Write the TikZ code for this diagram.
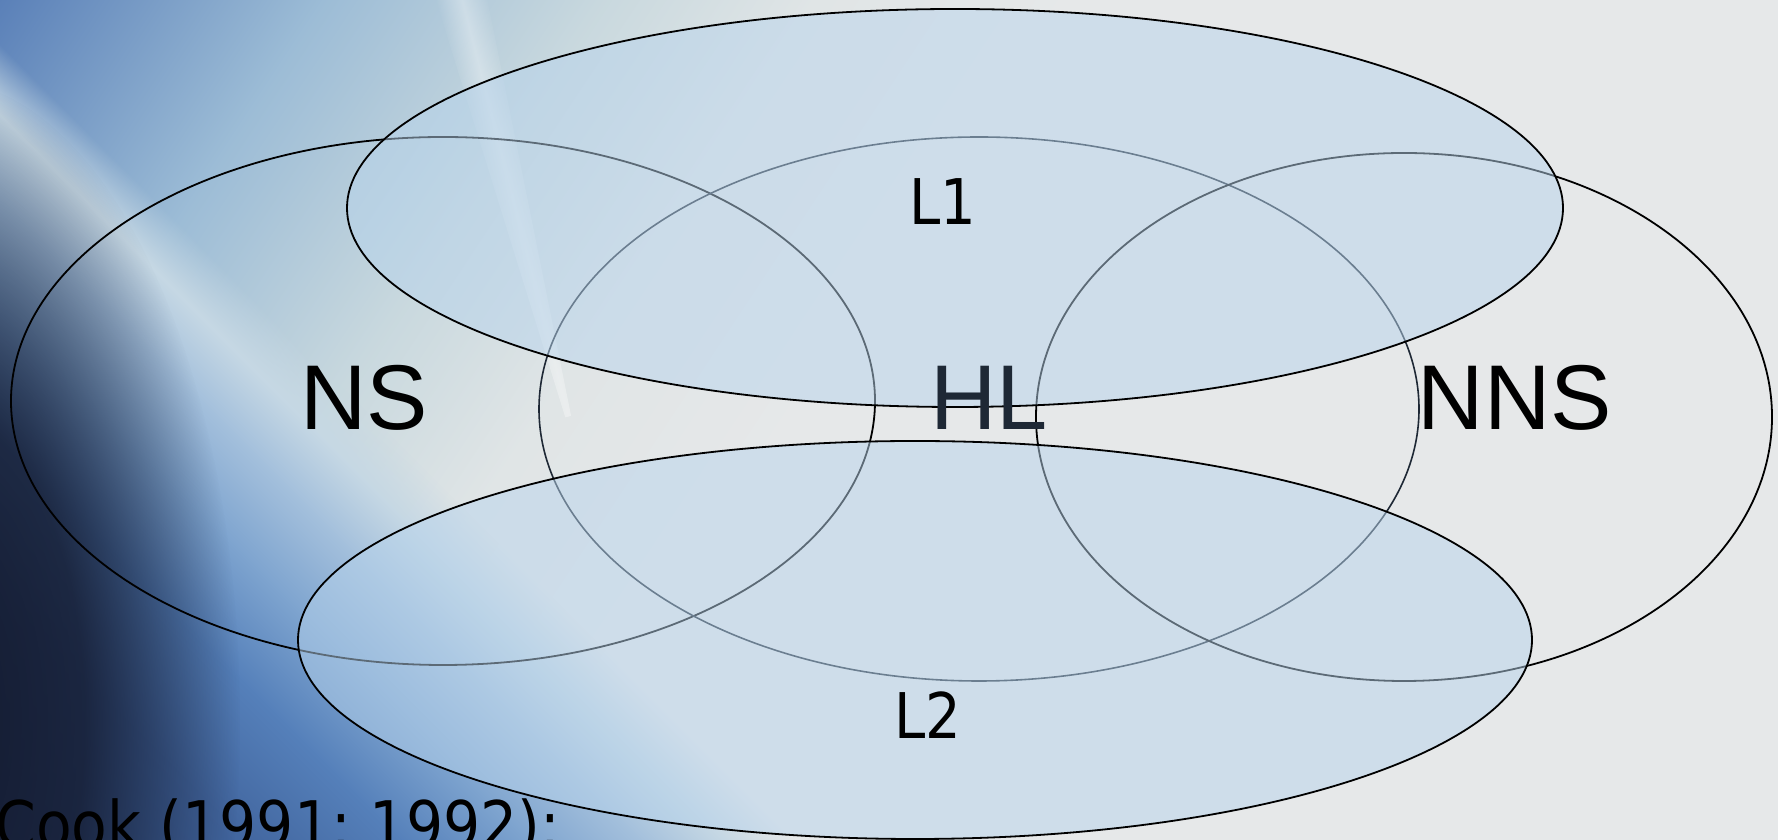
\documentclass[tikz,border=0pt]{standalone}
\usepackage{fontspec}
\setmainfont{Liberation Sans}
\newfontfamily\tahomafont[FakeStretch=0.89]{DejaVu Sans}
\usepackage{xcolor}
\usepackage{tikz}
\usetikzlibrary{fadings}
\definecolor{paper}{HTML}{E6E8E9}
\definecolor{skyA}{HTML}{5A80B8}
\definecolor{skyB}{HTML}{9CBCD6}
\definecolor{skyC}{HTML}{C8D8DE}
\definecolor{skyD}{HTML}{E0E5E6}
\definecolor{seaA}{HTML}{C6D8E4}
\definecolor{seaB}{HTML}{A4C0DC}
\definecolor{seaC}{HTML}{7EA4CF}
\definecolor{seaD}{HTML}{5580BA}
\definecolor{seaE}{HTML}{42669F}
\definecolor{seaF}{HTML}{32528C}
\definecolor{deep}{HTML}{141B30}
\definecolor{setfill}{HTML}{B8D4EC}
\definecolor{hlink}{HTML}{1E2835}
\pgfdeclareradialshading{blobshade}{\pgfpointorigin}{color(0bp)=(white); color(12bp)=(white!85!black); color(25bp)=(black); color(50bp)=(black)}
\tikzfading[name=blob, shading=blobshade]
\tikzfading[name=glint, top color=transparent!100, bottom color=transparent!100, middle color=transparent!0]
\tikzset{
  venn/.style={draw=black,line width=0.9pt},
  lang/.style={venn,fill=setfill,fill opacity=0.5},
  big/.style={font=\fontsize{46}{50}\selectfont,inner sep=0pt},
  small/.style={font=\tahomafont\fontsize{31.5}{36}\selectfont,inner sep=0pt},
}

\begin{document}
\begin{tikzpicture}[x=0.5pt,y=0.5pt]
\useasboundingbox (0,0) rectangle (1778,840);
\clip (0,0) rectangle (1778,840);
% slide backdrop
\fill[paper] (0,0) rectangle (1778,840);
\begin{scope}[transform canvas={shift={(0,840)},rotate=-33.5}]
  \fill[skyA] (-800,-1200) rectangle (0,1200);
  \foreach \a/\b/\ca/\cb in {0/270/skyA/skyB, 270/500/skyB/skyC, 500/680/skyC/skyD, 680/900/skyD/paper}
    \shade[left color=\ca,right color=\cb] (\a-1,-1200) rectangle (\b,1200);
\end{scope}
\begin{scope}[transform canvas={shift={(125,600)},rotate=-45}]
  \fill[seaA,path fading=north] (-400,0) rectangle (1800,50);
  \foreach \a/\b/\ca/\cb in {0/-60/seaA/seaB, -60/-140/seaB/seaC, -140/-230/seaC/seaD, -230/-340/seaD/seaE, -340/-650/seaE/seaF}
    \shade[top color=\ca,bottom color=\cb] (-400,\a+1) rectangle (1800,\b);
\end{scope}
\fill[deep,path fading=blob] (-60,120) ellipse [x radius=300,y radius=640];
\begin{scope}[transform canvas={shift={(462,840)},rotate=-75.7}]
  \fill[white,opacity=0.35,path fading=glint] (-20,-26) -- (430,-3) -- (430,3) -- (-20,26) -- cycle;
\end{scope}
% the five sets
\coordinate (ns) at (443,439);
\coordinate (hl) at (979,431);
\coordinate (nns) at (1404,423);
\coordinate (lone) at (955,632);
\coordinate (ltwo) at (915,200);
\draw[venn] (ns) ellipse [x radius=432,y radius=264];
\draw[venn,draw=hlink,line width=0.8pt] (hl) ellipse [x radius=440,y radius=272];
\draw[venn] (nns) ellipse [x radius=368,y radius=264];
\draw[lang] (lone) ellipse [x radius=608,y radius=199];
\draw[lang] (ltwo) ellipse [x radius=617,y radius=199];
% labels
\node[big] (nslbl) at (364,442) {NS};
\node[big,text=hlink] (hllbl) at (989,442) {HL};
\node[big] (nnslbl) at (1515,442) {NNS};
\node[small] (lonelbl) at (943,638) {L1};
\node[small] (ltwolbl) at (928,125) {L2};
\node[small,font=\tahomafont\fontsize{32.8}{36}\selectfont,anchor=base west] (cite) at (-5,-9) {Cook (1991; 1992):};
\end{tikzpicture}
\end{document}
